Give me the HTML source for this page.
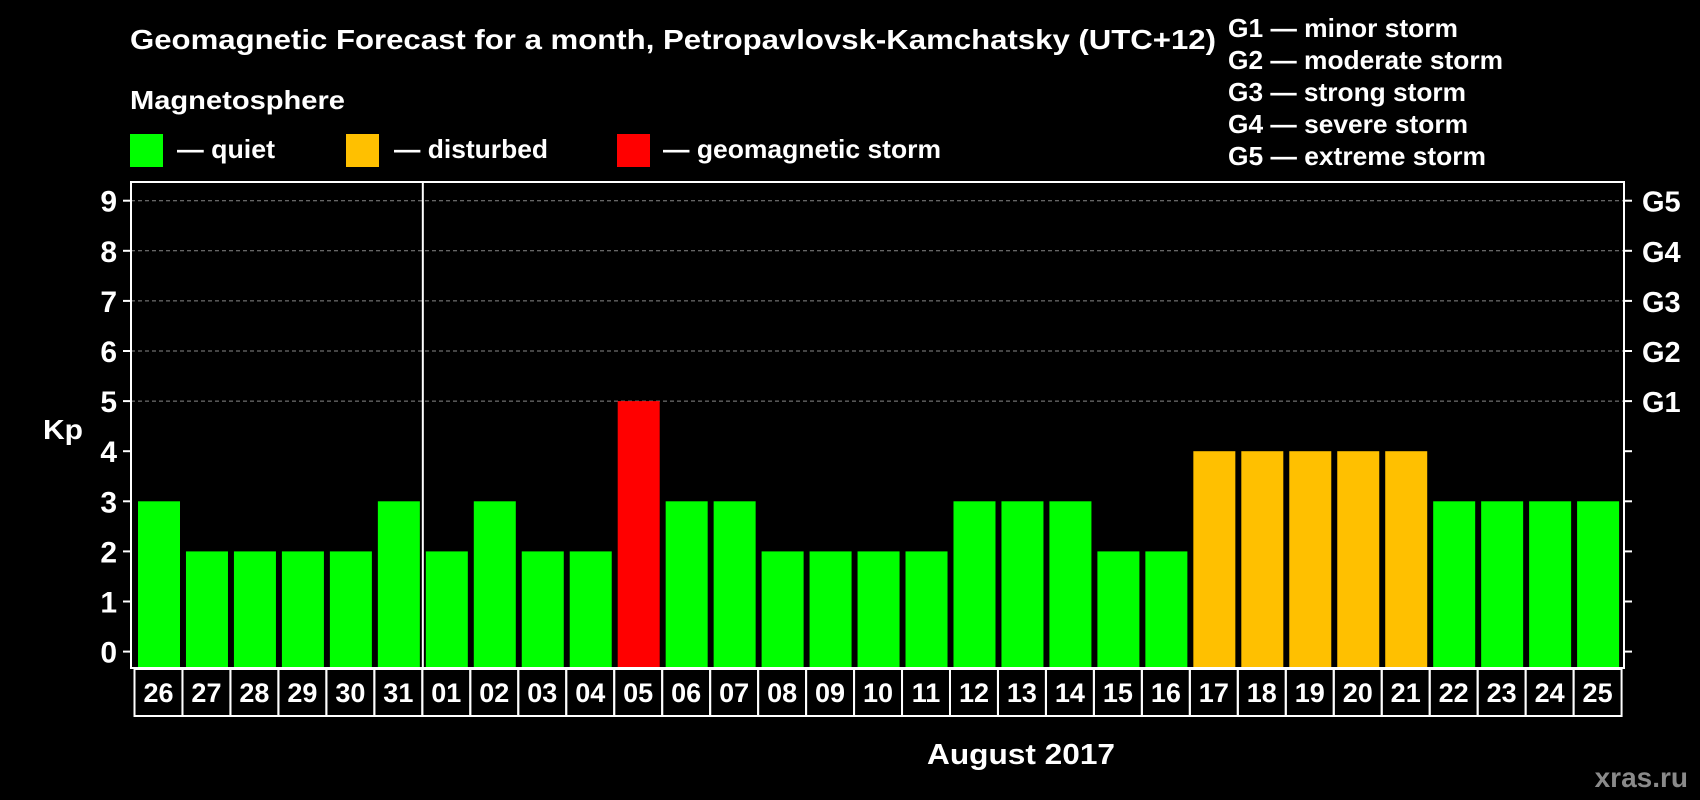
<!DOCTYPE html>
<html><head><meta charset="utf-8"><style>
html,body{margin:0;padding:0;background:#000;}
svg{display:block;font-family:"Liberation Sans",Arial,sans-serif;font-weight:bold;}
</style></head><body>
<svg id="chart" width="1700" height="800" viewBox="0 0 1700 800">
<rect width="1700" height="800" fill="#000"/>
<text x="130" y="49" fill="#fff" font-size="28" textLength="1086" lengthAdjust="spacingAndGlyphs">Geomagnetic Forecast for a month, Petropavlovsk-Kamchatsky (UTC+12)</text>
<g fill="#fff" font-size="26">
<text x="1228" y="37" textLength="230" lengthAdjust="spacingAndGlyphs">G1 — minor storm</text>
<text x="1228" y="69" textLength="275" lengthAdjust="spacingAndGlyphs">G2 — moderate storm</text>
<text x="1228" y="101" textLength="238" lengthAdjust="spacingAndGlyphs">G3 — strong storm</text>
<text x="1228" y="133" textLength="240" lengthAdjust="spacingAndGlyphs">G4 — severe storm</text>
<text x="1228" y="165" textLength="258" lengthAdjust="spacingAndGlyphs">G5 — extreme storm</text>
</g>
<text x="130" y="109" fill="#fff" font-size="26" textLength="215" lengthAdjust="spacingAndGlyphs">Magnetosphere</text>
<g fill="#fff" font-size="26">
<rect x="130" y="134" width="33" height="33" fill="#00ff00"/>
<text x="177" y="158" textLength="98" lengthAdjust="spacingAndGlyphs">— quiet</text>
<rect x="346" y="134" width="33" height="33" fill="#ffc000"/>
<text x="394" y="158" textLength="154" lengthAdjust="spacingAndGlyphs">— disturbed</text>
<rect x="617" y="134" width="33" height="33" fill="#ff0000"/>
<text x="663" y="158" textLength="278" lengthAdjust="spacingAndGlyphs">— geomagnetic storm</text>
</g>
<text x="43" y="439" fill="#fff" font-size="28" textLength="40" lengthAdjust="spacingAndGlyphs">Kp</text>
<text x="1021" y="764" fill="#fff" font-size="29" text-anchor="middle" textLength="188" lengthAdjust="spacingAndGlyphs">August 2017</text>
<text x="1688" y="787" fill="#8a8a8a" font-size="28" text-anchor="end">xras.ru</text>
<g id="grid"></g><g id="bars"></g><g id="axes"></g>
</svg>
<script>
const days=["26","27","28","29","30","31","01","02","03","04","05","06","07","08","09","10","11","12","13","14","15","16","17","18","19","20","21","22","23","24","25"];
const kpValues=[3,2,2,2,2,3,2,3,2,2,5,3,3,2,2,2,2,3,3,3,2,2,4,4,4,4,4,3,3,3,3];
const yTicks=[0,1,2,3,4,5,6,7,8,9];
const gLabels=["G1","G2","G3","G4","G5"];
const gLevels=[5,6,7,8,9];
const NS="http://www.w3.org/2000/svg";
const L=131,R=1624,T=182,B=668,x0=138,pitch=47.97,bw=42;
function y(v){return 651.6-v*50.1;}
function xs(i){return x0+i*pitch;}
function mk(tag,attrs,parent){const e=document.createElementNS(NS,tag);for(const k in attrs)e.setAttribute(k,attrs[k]);parent.appendChild(e);return e;}
const grid=document.getElementById('grid'),bars=document.getElementById('bars'),axes=document.getElementById('axes');
gLevels.forEach(v=>{const l=mk('line',{x1:L,x2:R,y1:y(v),y2:y(v),stroke:'#888','stroke-dasharray':'4,3','stroke-width':1},grid);

});
kpValues.forEach((v,i)=>{const c=v>=5?'#ff0000':(v>=4?'#ffc000':'#00ff00');
const r=mk('rect',{x:xs(i),y:y(v),width:bw,height:B-y(v),fill:c},bars);

});
const f=mk('rect',{x:L,y:T,width:R-L,height:B-T,fill:'none',stroke:'#fff','stroke-width':2},axes);


const dv=mk('line',{x1:xs(6)-3,x2:xs(6)-3,y1:T,y2:B,stroke:'#fff','stroke-width':2},axes);


yTicks.forEach(v=>{mk('line',{x1:L-8,x2:L,y1:y(v),y2:y(v),stroke:'#fff','stroke-width':2},axes);
mk('line',{x1:R,x2:R+8,y1:y(v),y2:y(v),stroke:'#fff','stroke-width':2},axes);
const t=mk('text',{x:117,y:y(v)+11,fill:'#fff','font-size':30,'text-anchor':'end'},axes);t.textContent=v;

});
gLabels.forEach((g,i)=>{const t=mk('text',{x:1642,y:y(gLevels[i])+11,fill:'#fff','font-size':29},axes);t.textContent=g;

});
days.forEach((d,i)=>{const bx=xs(i)-3.5;
const r=mk('rect',{x:bx,y:669,width:pitch,height:47,fill:'none',stroke:'#fff','stroke-width':2},axes);


const t=mk('text',{x:bx+pitch/2,y:702,fill:'#fff','font-size':27,'text-anchor':'middle'},axes);t.textContent=d;

});
</script>
</body></html>
